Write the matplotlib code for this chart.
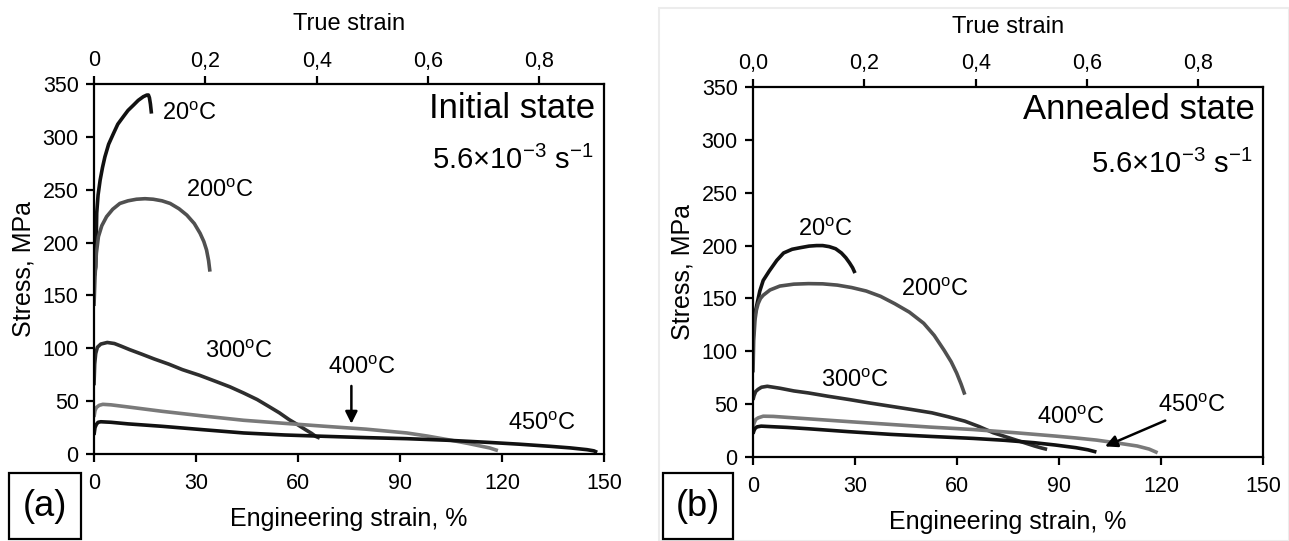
import numpy as np
import matplotlib
matplotlib.use("Agg")
import matplotlib.pyplot as plt
from matplotlib.patches import Rectangle

plt.rcParams['font.family'] = ['Liberation Sans', 'DejaVu Sans']
plt.rcParams['mathtext.fontset'] = 'custom'
plt.rcParams['mathtext.rm'] = 'Liberation Sans'
plt.rcParams['mathtext.it'] = 'Liberation Sans'

# Initial state: engineering strain (%) vs stress (MPa)
a20_e = [0, 0.2, 0.5, 0.8, 1.2, 1.8, 2.5, 3.2, 4.3, 5.7, 7, 8.6, 10, 11.6, 13, 14.5, 15.5, 16, 16.3, 16.6, 16.9]
a20_s = [168, 170, 177, 228, 245, 259, 271, 281, 293, 303, 312, 319, 325, 330, 334.5, 338, 339.5, 339.6, 337, 331, 322]
a200_e = [0, 0.3, 0.7, 1.3, 2.3, 3.7, 5.5, 7.6, 10, 12.5, 15, 17.4, 20, 22.4, 25, 27.3, 29.5, 31.2, 32.3, 33.1, 33.7, 34.1]
a200_s = [140, 168, 190, 205.6, 216, 224.5, 231.5, 237, 239.5, 241, 241.5, 241, 239.5, 237, 232, 226, 218, 208.8, 201, 193, 183, 172.5]
a300_e = [0, 0.2, 0.5, 1, 2, 3.9, 6, 8, 10.5, 14, 17.7, 22, 26, 31, 35.7, 40, 44, 48, 51.4, 54.5, 57.4, 60, 62.2, 64, 65.2, 66.4]
a300_s = [65, 85, 95, 101, 104, 105.5, 104.5, 102, 98.7, 94.5, 89.9, 85, 79.8, 74.5, 68.8, 63.5, 57.7, 51.5, 45, 39, 32.5, 27.5, 23, 19.5, 16.7, 15]
a400_e = [0, 0.3, 0.7, 1.5, 2.6, 5, 10, 20, 32, 44, 56, 68, 80, 92, 98, 104, 110, 116.4, 118.8]
a400_s = [35, 41, 44, 46, 47, 46.5, 44.5, 40.4, 36, 31.9, 29, 26.2, 23.5, 19.9, 17, 13.6, 10, 5.7, 3.2]
a450_e = [0, 0.3, 0.7, 1.2, 2, 5, 10, 20, 32, 44, 56, 68, 80, 92, 104, 116, 125, 134, 140, 145, 147, 148]
a450_s = [18, 25, 28, 30, 30.5, 30, 28.5, 26.2, 23, 19.9, 18, 16.7, 15.5, 14.5, 13, 11, 9.3, 7.3, 5.8, 4.1, 3, 1.6]

# Annealed state
b20_e = [0, 0.2, 0.4, 0.8, 1.2, 2, 3, 4.8, 7, 9, 11.5, 13.9, 16.5, 18.7, 20.5, 22.4, 24.3, 26, 27.3, 28.4, 29.3, 30]
b20_s = [110, 122, 130, 139, 145, 157, 167, 176, 186, 193, 196.5, 198, 199.5, 200, 200, 199, 197, 193, 188.5, 183.6, 179, 174]
b200_e = [0, 0.2, 0.6, 1, 1.5, 2.2, 3, 5, 7.9, 12, 16.3, 20.5, 24.8, 29, 33.3, 37.5, 41.7, 46, 50.2, 53.3, 56.2, 58.3, 59.9, 61.2, 62.3]
b200_s = [80, 110, 130, 139, 145, 150, 153, 158, 161.7, 163.5, 164, 163.8, 162.6, 160.3, 157, 152, 145, 137, 126.5, 115, 101, 90, 79.4, 69, 59]
b300_e = [0, 0.3, 0.8, 1.5, 2.5, 4.2, 8, 12, 16.3, 22, 28.4, 34.5, 40.5, 46.5, 52.6, 57.5, 62.3, 66.5, 70.7, 74, 76.8, 80, 82.8, 85, 86.5]
b300_s = [54, 58, 62, 64, 66, 66.9, 65, 62.5, 60.6, 57.5, 54.3, 51, 48, 45, 41.8, 38, 33.9, 28.8, 22.9, 19.5, 16.6, 13.3, 10.4, 8.4, 7.2]
b400_e = [0, 0.3, 0.8, 1.5, 3, 6, 10, 16.3, 28, 40.5, 52, 64.7, 77, 88.9, 95, 101, 107, 113, 116.5, 119]
b400_s = [28, 32, 35.5, 37, 38.6, 38.4, 37.5, 36.1, 33.5, 30.8, 28.3, 26, 23, 19.8, 18, 16, 13.3, 10.4, 7.5, 4]
b450_e = [0, 0.3, 0.6, 1.2, 2.4, 6, 10, 16.3, 28, 40.5, 52, 64.7, 74, 82.8, 89, 95, 98.5, 101]
b450_s = [22, 25, 27, 28.5, 29.2, 28.6, 28, 26.7, 24, 21.4, 19.5, 17.6, 15.8, 13.5, 11.3, 8.8, 6.8, 4.7]

eng_ticks = [0, 30, 60, 90, 120, 150]
stress_ticks = [0, 50, 100, 150, 200, 250, 300, 350]
true_ticks = [0, 0.2, 0.4, 0.6, 0.8]
true_labels_a = ['0', '0,2', '0,4', '0,6', '0,8']
true_labels_b = ['0,0', '0,2', '0,4', '0,6', '0,8']

BLACK = '#111111'
DARK = '#2e2e2e'
MID = '#505050'
LIGHT = '#7a7a7a'


def deg(t):
    return t + r'$^{\mathregular{o}}$C'


def setup(ax, true_labels):
    ax.set_xlim(0, 150)
    ax.set_ylim(0, 350)
    ax.set_xticks(eng_ticks)
    ax.set_yticks(stress_ticks)
    for sp in ax.spines.values():
        sp.set_linewidth(1.6)
        sp.set_color('black')
    ax.tick_params(axis='both', direction='out', length=6, width=1.6,
                   labelsize=15.5, pad=5)
    ax.tick_params(axis='x', pad=8)
    ax.set_xlabel('Engineering strain, %', fontsize=18, labelpad=9)
    ax.set_ylabel('Stress, MPa', fontsize=18, labelpad=5)
    top = ax.twiny()
    top.set_xlim(0, np.log(2.5))
    top.set_xticks(true_ticks)
    top.set_xticklabels(true_labels)
    top.tick_params(axis='x', direction='out', length=6, width=1.6,
                    labelsize=15.5, pad=3)
    top.set_xlabel('True strain', fontsize=17, labelpad=15)
    for sp in top.spines.values():
        sp.set_visible(False)
    return top


def curve(ax, e, s, c):
    ax.plot(e, s, color=c, lw=2.6, solid_joinstyle='round', solid_capstyle='butt')


fig = plt.figure(figsize=(12.89, 5.41), dpi=100)

# faint frame round the right panel
fig.patches.append(Rectangle((659 / 1289, 0), 630 / 1289, 533 / 541,
                             transform=fig.transFigure, fill=False,
                             edgecolor='#ececec', linewidth=1.5))

# ---- (a) initial state
ax1 = fig.add_axes([94 / 1289, 87 / 541, 510 / 1289, 370 / 541])
setup(ax1, true_labels_a)
curve(ax1, a20_e, a20_s, BLACK)
curve(ax1, a200_e, a200_s, MID)
curve(ax1, a300_e, a300_s, DARK)
curve(ax1, a400_e, a400_s, LIGHT)
curve(ax1, a450_e, a450_s, BLACK)
ax1.text(20, 322, deg('20'), fontsize=17, va='center')
ax1.text(27, 249, deg('200'), fontsize=17, va='center')
ax1.text(32.7, 97, deg('300'), fontsize=17, va='center')
ax1.text(68.8, 81, deg('400'), fontsize=17, va='center')
ax1.text(121.8, 28, deg('450'), fontsize=17, va='center')
ax1.annotate('', xy=(75.7, 26), xytext=(75.7, 67),
             arrowprops=dict(arrowstyle='-|>', color='black', lw=1.8,
                             mutation_scale=18))
ax1.text(147.5, 327, 'Initial state', fontsize=25, ha='right', va='center')
ax1.text(147, 270, r'5.6×10$^{-3}$ s$^{-1}$', fontsize=21,
         ha='right', va='baseline')

# ---- (b) annealed state
ax2 = fig.add_axes([753 / 1289, 84 / 541, 510 / 1289, 370 / 541])
setup(ax2, true_labels_b)
curve(ax2, b20_e, b20_s, BLACK)
curve(ax2, b200_e, b200_s, MID)
curve(ax2, b300_e, b300_s, DARK)
curve(ax2, b400_e, b400_s, LIGHT)
curve(ax2, b450_e, b450_s, BLACK)
ax2.text(13.3, 215, deg('20'), fontsize=17, va='center')
ax2.text(43.5, 158, deg('200'), fontsize=17, va='center')
ax2.text(20, 72, deg('300'), fontsize=17, va='center')
ax2.text(83.4, 37, deg('400'), fontsize=17, va='center')
ax2.text(119, 48, deg('450'), fontsize=17, va='center')
ax2.annotate('', xy=(102.8, 9), xytext=(122, 35.5),
             arrowprops=dict(arrowstyle='-|>', color='black', lw=1.8,
                             mutation_scale=18))
ax2.text(147.5, 329, 'Annealed state', fontsize=25, ha='right', va='center')
ax2.text(147, 269, r'5.6×10$^{-3}$ s$^{-1}$', fontsize=21,
         ha='right', va='baseline')

# panel letters
for x0, w, lab in [(9, 72, '(a)'), (663, 70, '(b)')]:
    fig.patches.append(Rectangle((x0 / 1289, 2 / 541), w / 1289, 66 / 541,
                                 transform=fig.transFigure, fill=False,
                                 edgecolor='black', linewidth=1.6))
    fig.text((x0 + w / 2) / 1289, 35 / 541, lab, fontsize=26,
             ha='center', va='center')

fig.savefig('out.png', dpi=100)
